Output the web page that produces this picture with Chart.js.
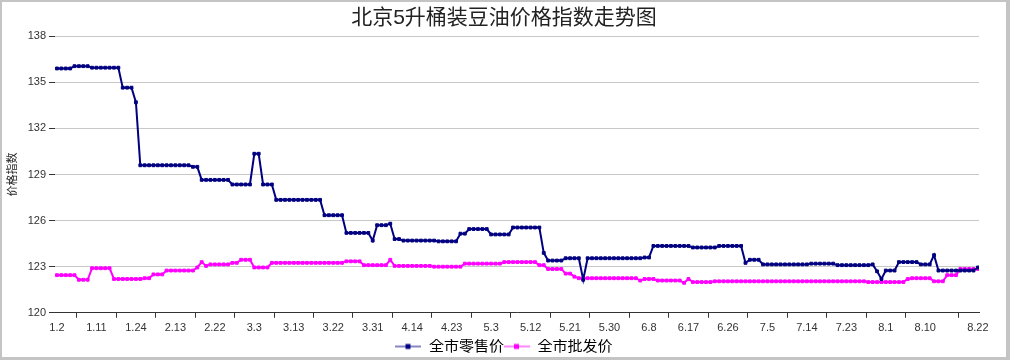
<!DOCTYPE html>
<html>
<head>
<meta charset="utf-8">
<script src="https://cdn.jsdelivr.net/npm/chart.js@4.4.0/dist/chart.umd.min.js"></script>
<style>
  html, body { margin: 0; padding: 0; background: #fff; }
  #box { width: 1010px; height: 360px; box-sizing: border-box; border: solid #c4c4c4; border-width: 2px 4px 3px 2px; }
  #chart { display: block; }
</style>
</head>
<body>
<div id="box"><canvas id="chart" width="1004" height="355"></canvas></div>
<script>
// tick labels and the point index each one sits on
let dateLabels = ["1.2","1.11","1.24","2.13","2.22","3.3","3.13","3.22","3.31","4.14","4.23","5.3",
                  "5.12","5.21","5.30","6.8","6.17","6.26","7.5","7.14","7.23","8.1","8.10","8.22"]
let labelIndex = [0,9,18,27,36,45,54,63,72,81,90,99,108,117,126,135,144,153,162,171,180,189,198,210]

let seriesNames = ["全市零售价", "全市批发价"]

// 全市零售价
let retail = [
  135.9,135.9,135.9,135.9,136.05,136.05,136.05,136.05,135.95,135.95,
  135.95,135.95,135.95,135.95,135.95,134.65,134.65,134.65,133.7,129.6,
  129.6,129.6,129.6,129.6,129.6,129.6,129.6,129.6,129.6,129.6,
  129.6,129.5,129.5,128.65,128.65,128.65,128.65,128.65,128.65,128.65,
  128.35,128.35,128.35,128.35,128.35,130.35,130.35,128.35,128.35,128.35,
  127.35,127.35,127.35,127.35,127.35,127.35,127.35,127.35,127.35,127.35,
  127.35,126.35,126.35,126.35,126.35,126.35,125.2,125.2,125.2,125.2,
  125.2,125.2,124.7,125.7,125.7,125.7,125.8,124.8,124.8,124.7,
  124.7,124.7,124.7,124.7,124.7,124.7,124.7,124.65,124.65,124.65,
  124.65,124.65,125.15,125.15,125.45,125.45,125.45,125.45,125.45,125.1,
  125.1,125.1,125.1,125.1,125.55,125.55,125.55,125.55,125.55,125.55,
  125.55,123.9,123.4,123.4,123.4,123.4,123.55,123.55,123.55,123.55,
  122.15,123.55,123.55,123.55,123.55,123.55,123.55,123.55,123.55,123.55,
  123.55,123.55,123.55,123.55,123.6,123.6,124.35,124.35,124.35,124.35,
  124.35,124.35,124.35,124.35,124.35,124.25,124.25,124.25,124.25,124.25,
  124.25,124.35,124.35,124.35,124.35,124.35,124.35,123.25,123.45,123.45,
  123.45,123.15,123.15,123.15,123.15,123.15,123.15,123.15,123.15,123.15,
  123.15,123.15,123.2,123.2,123.2,123.2,123.2,123.2,123.1,123.1,
  123.1,123.1,123.1,123.1,123.1,123.1,123.15,122.7,122.2,122.75,
  122.75,122.75,123.3,123.3,123.3,123.3,123.3,123.15,123.15,123.15,
  123.75,122.75,122.75,122.75,122.75,122.75,122.75,122.75,122.75,122.75,
  122.95
]

// 全市批发价
let wholesale = [
  122.45,122.45,122.45,122.45,122.45,122.15,122.15,122.15,122.9,122.9,
  122.9,122.9,122.9,122.2,122.2,122.2,122.2,122.2,122.2,122.2,
  122.25,122.25,122.5,122.5,122.5,122.75,122.75,122.75,122.75,122.75,
  122.75,122.75,122.95,123.3,123.05,123.15,123.15,123.15,123.15,123.15,
  123.25,123.25,123.45,123.45,123.45,122.95,122.95,122.95,122.95,123.25,
  123.25,123.25,123.25,123.25,123.25,123.25,123.25,123.25,123.25,123.25,
  123.25,123.25,123.25,123.25,123.25,123.25,123.35,123.35,123.35,123.35,
  123.1,123.1,123.1,123.1,123.1,123.1,123.45,123.05,123.05,123.05,
  123.05,123.05,123.05,123.05,123.05,123.05,123.0,123.0,123.0,123.0,
  123.0,123.0,123.0,123.2,123.2,123.2,123.2,123.2,123.2,123.2,
  123.2,123.2,123.3,123.3,123.3,123.3,123.3,123.3,123.3,123.3,
  123.1,123.1,122.85,122.85,122.85,122.85,122.55,122.55,122.35,122.25,
  122.25,122.25,122.25,122.25,122.25,122.25,122.25,122.25,122.25,122.25,
  122.25,122.25,122.25,122.1,122.2,122.2,122.2,122.1,122.1,122.1,
  122.1,122.1,122.1,121.95,122.2,122.0,122.0,122.0,122.0,122.0,
  122.05,122.05,122.05,122.05,122.05,122.05,122.05,122.05,122.05,122.05,
  122.05,122.05,122.05,122.05,122.05,122.05,122.05,122.05,122.05,122.05,
  122.05,122.05,122.05,122.05,122.05,122.05,122.05,122.05,122.05,122.05,
  122.05,122.05,122.05,122.05,122.05,122.0,122.0,122.0,122.0,122.0,
  122.0,122.0,122.0,122.0,122.2,122.25,122.25,122.25,122.25,122.25,
  122.05,122.05,122.05,122.45,122.45,122.45,122.85,122.85,122.85,122.85,
  122.85
]

let yTicks = [120, 123, 126, 129, 132, 135, 138]

let colors = ["#000080", "#ff00ff"]

// tick marks sit half a label step before each label
let markIndex = labelIndex.slice(1).map(v => v - 4.5)

function toPoints(arr){
    return arr.map((v, i) => ({x: i, y: v}))
}

// little line-with-square glyph for the legend
function legendGlyph(color){
    let c = document.createElement("canvas")
    c.width = 26
    c.height = 8
    let g = c.getContext("2d")
    g.strokeStyle = color
    g.lineWidth = 1.2
    g.globalAlpha = 0.8
    g.beginPath()
    g.moveTo(0, 4)
    g.lineTo(26, 4)
    g.stroke()
    g.globalAlpha = 1
    g.fillStyle = color
    g.fillRect(10, 1.5, 5, 5)
    return c
}

let font = "'Liberation Sans', 'Noto Sans CJK SC', Arial, sans-serif"

let chart = new Chart("chart", {
    type: "line",
    data: {
        datasets: [
            {
                label: seriesNames[0],
                data: toPoints(retail),
                borderColor: colors[0],
                backgroundColor: colors[0],
                borderWidth: 2,
                pointStyle: "rect",
                pointRadius: 2,
                pointBorderWidth: 1,
                tension: 0
            },
            {
                label: seriesNames[1],
                data: toPoints(wholesale),
                borderColor: colors[1],
                backgroundColor: colors[1],
                borderWidth: 2,
                pointStyle: "rect",
                pointRadius: 2,
                pointBorderWidth: 1,
                tension: 0
            }
        ]
    },
    options: {
        responsive: false,
        animation: false,
        layout: { padding: { top: 0, left: 0, right: 0, bottom: -7 } },
        plugins: {
            title: {
                display: true,
                text: "北京5升桶装豆油价格指数走势图",
                color: "#222",
                font: { family: font, size: 21, weight: "normal" },
                padding: { top: 4, bottom: 5 }
            },
            legend: {
                position: "bottom",
                labels: {
                    usePointStyle: true,
                    pointStyleWidth: 26,
                    boxHeight: 10,
                    color: "#222",
                    padding: 0,
                    font: { family: font, size: 15 },
                    generateLabels(ch){
                        return ch.data.datasets.map((ds, i) => ({
                            text: ds.label,
                            pointStyle: legendGlyph(colors[i]),
                            fillStyle: colors[i],
                            strokeStyle: colors[i],
                            lineWidth: 0,
                            datasetIndex: i,
                            hidden: false
                        }))
                    }
                }
            },
            tooltip: { enabled: false }
        },
        scales: {
            x: {
                type: "linear",
                min: -0.45,
                max: retail.length - 1 + 0.25,
                afterBuildTicks(scale){
                    let all = labelIndex.concat(markIndex).sort((a, b) => a - b)
                    scale.ticks = all.map(v => ({ value: v }))
                },
                ticks: {
                    autoSkip: false,
                    maxRotation: 0,
                    padding: 4,
                    color: "#333",
                    font: { family: font, size: 11 },
                    callback(value){
                        let k = labelIndex.indexOf(value)
                        return k >= 0 ? dateLabels[k] : ""
                    }
                },
                grid: {
                    drawOnChartArea: false,
                    tickLength: 5,
                    tickColor(ctx){
                        return labelIndex.includes(ctx.tick.value) ? "rgba(0,0,0,0)" : "#333"
                    }
                },
                border: { display: true, color: "#333", width: 1 }
            },
            y: {
                min: 120,
                max: 138,
                afterBuildTicks(scale){
                    scale.ticks = yTicks.map(v => ({ value: v }))
                },
                afterFit(scale){
                    scale.width = 53
                },
                ticks: {
                    padding: 3,
                    color: "#333",
                    font: { family: font, size: 11 }
                },
                grid: {
                    color: "#c8c8c8",
                    tickColor: "#333",
                    tickLength: 6
                },
                border: { display: false },
                title: {
                    display: true,
                    text: "价格指数",
                    color: "#222",
                    font: { family: font, size: 11 },
                    padding: { top: 4, bottom: 4 }
                }
            },
            // empty right-hand strip so the plot stops short of the frame
            yRight: {
                position: "right",
                display: true,
                ticks: { display: false },
                grid: { display: false },
                border: { display: false },
                afterFit(scale){
                    scale.width = 27
                }
            }
        }
    }
})
</script>
</body>
</html>
